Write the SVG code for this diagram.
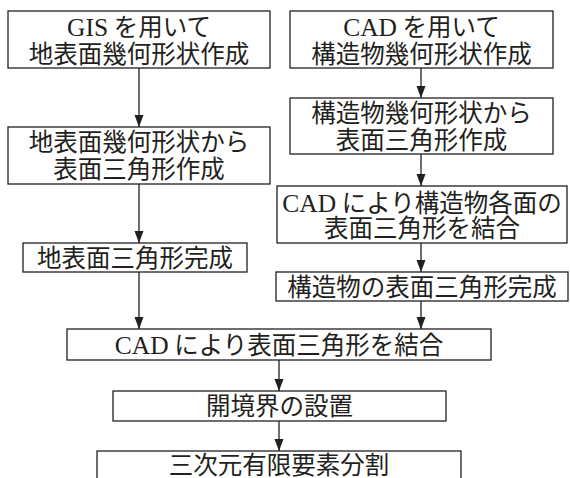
<svg xmlns="http://www.w3.org/2000/svg" width="570" height="478" viewBox="0 0 570 478">
<style>
.box{fill:#fff;stroke:#231f20;stroke-width:1.3}
.t{font-family:"Noto Sans CJK JP","Noto Sans",sans-serif;font-size:24.5px;fill:#231f20;text-anchor:middle}
.l{font-family:"Liberation Serif",serif;font-size:25.5px}
.c{stroke:#231f20;stroke-width:1.3;fill:none;marker-end:url(#ah)}
</style>
<defs>
<marker id="ah" markerUnits="userSpaceOnUse" markerWidth="13" markerHeight="10" refX="12" refY="4.5" orient="auto">
<path d="M0,0 L12,4.5 L0,9 z" fill="#231f20"/>
</marker>
</defs>
<rect width="570" height="478" fill="#fff"/>
<g id="connectors">
<line class="c" x1="139" y1="68" x2="139" y2="127"/>
<line class="c" x1="139" y1="184" x2="139" y2="243"/>
<line class="c" x1="139" y1="272" x2="139" y2="329"/>
<line class="c" x1="421" y1="68" x2="421" y2="98"/>
<line class="c" x1="421" y1="154" x2="421" y2="186"/>
<line class="c" x1="421" y1="243" x2="421" y2="272"/>
<line class="c" x1="421" y1="301" x2="421" y2="329"/>
<line class="c" x1="279" y1="360" x2="279" y2="391"/>
<line class="c" x1="279" y1="421" x2="279" y2="451"/>
</g>
<g id="gis">
<rect class="box" x="8" y="11" width="262" height="57"/>
<text class="t" x="139" y="36"><tspan class="l">GIS</tspan> を用いて</text>
<text class="t" x="139" y="63">地表面幾何形状作成</text>
</g>
<g id="ground-tri">
<rect class="box" x="8" y="127" width="262" height="57"/>
<text class="t" x="139" y="151">地表面幾何形状から</text>
<text class="t" x="139" y="178">表面三角形作成</text>
</g>
<g id="ground-done">
<rect class="box" x="23" y="243" width="224" height="29"/>
<text class="t" x="135" y="267">地表面三角形完成</text>
</g>
<g id="cad">
<rect class="box" x="290" y="11" width="263" height="57"/>
<text class="t" x="421.5" y="36"><tspan class="l">CAD</tspan> を用いて</text>
<text class="t" x="421.5" y="63">構造物幾何形状作成</text>
</g>
<g id="struct-tri">
<rect class="box" x="290" y="98" width="263" height="56"/>
<text class="t" x="421.5" y="122">構造物幾何形状から</text>
<text class="t" x="421.5" y="149">表面三角形作成</text>
</g>
<g id="struct-join">
<rect class="box" x="277" y="186" width="290" height="57"/>
<text class="t" x="422" y="212"><tspan class="l">CAD</tspan> により構造物各面の</text>
<text class="t" x="422" y="237">表面三角形を結合</text>
</g>
<g id="struct-done">
<rect class="box" x="276" y="272" width="292" height="29"/>
<text class="t" x="422" y="296">構造物の表面三角形完成</text>
</g>
<g id="join">
<rect class="box" x="67" y="329" width="424" height="31"/>
<text class="t" x="279" y="354"><tspan class="l">CAD</tspan> により表面三角形を結合</text>
</g>
<g id="boundary">
<rect class="box" x="113" y="391" width="333" height="30"/>
<text class="t" x="279.5" y="415">開境界の設置</text>
</g>
<g id="mesh">
<rect class="box" x="97" y="451" width="364" height="40"/>
<text class="t" x="279" y="473.5">三次元有限要素分割</text>
</g>
</svg>
